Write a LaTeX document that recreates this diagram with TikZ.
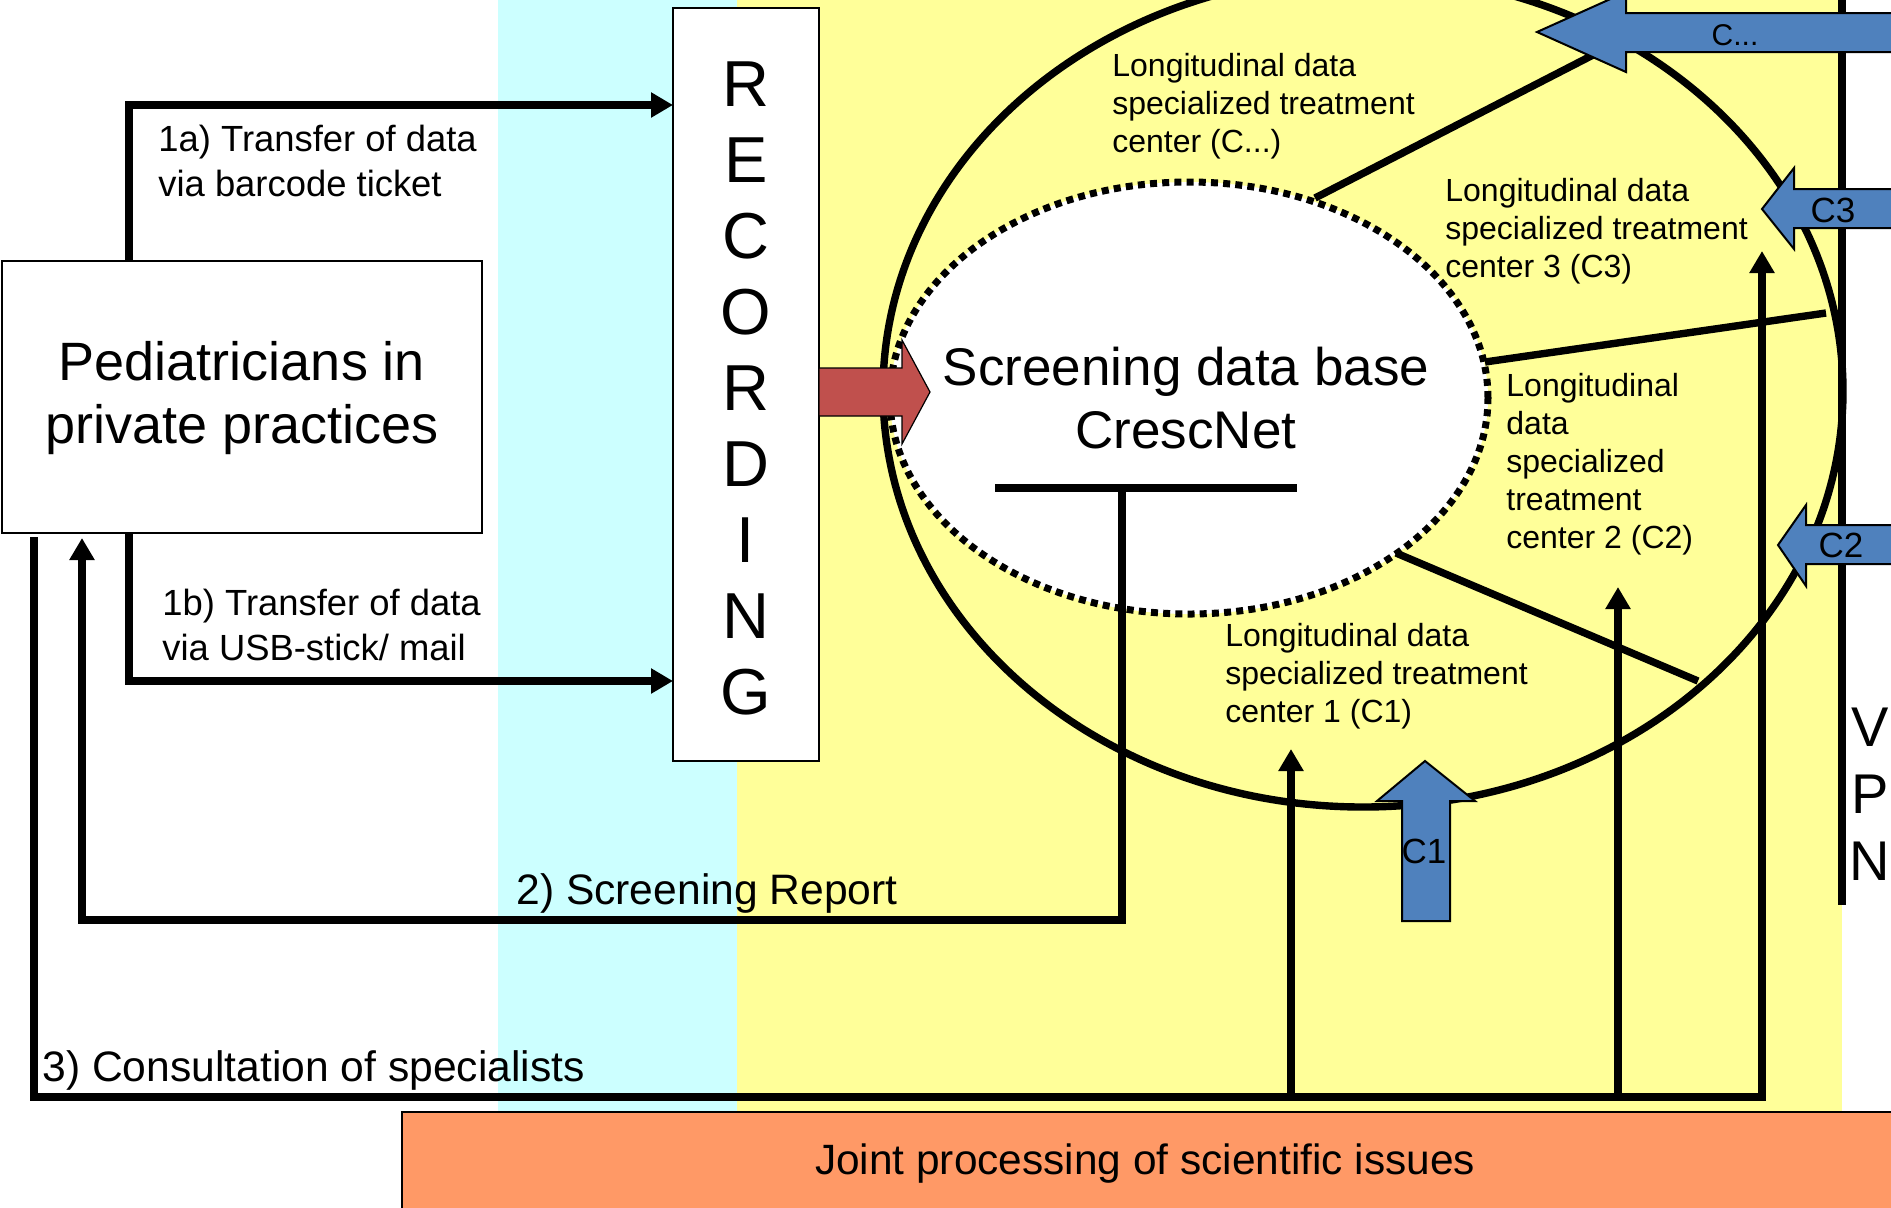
\documentclass[tikz,border=0pt]{standalone}
\usepackage{fontspec}
\setmainfont{Liberation Sans}
\usetikzlibrary{arrows.meta,shapes.geometric}
\definecolor{cyanbg}{HTML}{CCFFFF}
\definecolor{yellowbg}{HTML}{FFFF99}
\definecolor{orangebox}{HTML}{FF9966}
\definecolor{redarrow}{HTML}{C0504D}
\definecolor{bluearrow}{HTML}{4F81BD}
\begin{document}
\begin{tikzpicture}[x=0.5pt,y=-0.5pt,
  conn/.style={line width=3.7pt},
  arr/.style={conn,-{Triangle[length=11pt,width=12pt]}},
  thinbox/.style={draw,line width=1pt,fill=white,inner sep=0pt},
  lbl/.style={inner sep=0pt,anchor=west,align=left,font=\fontsize{16pt}{19pt}\selectfont},
  midlbl/.style={inner sep=0pt,anchor=west,align=left,font=\fontsize{18.2pt}{22.5pt}\selectfont},
  biglbl/.style={inner sep=0pt,anchor=west,align=left,font=\fontsize{21.3pt}{25pt}\selectfont},
  bluearr/.style={fill=bluearrow,draw=black,line width=1pt},
  clbl/.style={inner sep=0pt,font=\fontsize{17.5pt}{20pt}\selectfont}
]
\useasboundingbox (0,0) rectangle (1891,1207);
\clip (0,0) rectangle (1891,1207);

% backgrounds
\fill[cyanbg] (498,-10) rectangle (737,1112);
\fill[yellowbg] (737,-10) rectangle (1842,1112);
\draw[fill=orangebox,line width=1pt] (402,1112) rectangle (1910,1225);
\node[inner sep=0pt,font=\fontsize{21.2pt}{25pt}\selectfont] (joint) at (1145,1164) {Joint processing of scientific issues};

% VPN
\coordinate (vpnt) at (1842,-10);
\coordinate (vpnb) at (1842,905);
\draw[conn] (vpnt) -- (vpnb);
\node[inner sep=0pt,align=center,font=\fontsize{28pt}{33.5pt}\selectfont] (vpn) at (1870,794) {V\\P\\N};

% ellipses
\node[ellipse,draw,line width=3.7pt,minimum width=480pt,minimum height=416pt,inner sep=0pt] (outer) at (1363,391) {};
\node[ellipse,draw,fill=white,line width=3.5pt,dash pattern=on 3.5pt off 2.6pt,minimum width=299pt,minimum height=216pt,inner sep=0pt] (inner) at (1189,398) {};

% sector dividers
\coordinate (d1a) at (1315,198); \coordinate (d1b) at (1593,55);
\coordinate (d2a) at (1485,362); \coordinate (d2b) at (1826,313);
\coordinate (d3a) at (1396,553); \coordinate (d3b) at (1698,681);
\draw[conn] (d1a) -- (d1b);
\draw[conn] (d2a) -- (d2b);
\draw[conn] (d3a) -- (d3b);

% boxes
\node[thinbox,minimum width=240pt,minimum height=136pt] (ped) at (242,397) {};
\node[inner sep=0pt,align=center,font=\fontsize{27pt}{31.5pt}\selectfont] (pedtxt) at (242,398) {Pediatricians in\\private practices};
\node[thinbox,minimum width=73pt,minimum height=376.5pt] (rec) at (746,384.5) {};
\node[inner sep=0pt,align=center,font=\fontsize{32.5pt}{38pt}\selectfont] (rectxt) at (746,388) {R\\E\\C\\O\\R\\D\\I\\N\\G};

% database text
\node[inner sep=0pt,align=center,font=\fontsize{26.5pt}{31.5pt}\selectfont] (db) at (1186,398) {Screening data base\\CrescNet};

% red arrow
\draw[fill=redarrow,line width=0.6pt] (819,368) -- (902,368) -- (902,340) -- (930,392) -- (902,444) -- (902,416) -- (819,416) -- cycle;

% 1a / 1b
\coordinate (a1s) at (129,261); \coordinate (a1e) at (673,105);
\coordinate (b1s) at (129,533); \coordinate (b1e) at (673,681);
\draw[arr] (a1s) |- (a1e);
\draw[arr] (b1s) |- (b1e);
\node[midlbl] (l1a) at (158,161) {1a) Transfer of data\\via barcode ticket};
\node[midlbl] (l1b) at (162,625) {1b) Transfer of data\\via USB-stick/ mail};

% 2) screening report
\coordinate (tbl) at (995,488); \coordinate (tbr) at (1297,488);
\coordinate (tbm) at (1122,488); \coordinate (tbb) at (1122,920);
\coordinate (reptip) at (82,538);
\draw[conn] (tbl) -- (tbr);
\draw[arr] (tbm) -- (tbb) -| (reptip);
\node[biglbl] (l2) at (516,893) {2) Screening Report};

% 3) consultation
\coordinate (cs) at (34,537); \coordinate (cc) at (1762,1097); \coordinate (c3t) at (1762,251);
\coordinate (c1b) at (1291,1097); \coordinate (c1t) at (1291,749);
\coordinate (c2b) at (1618,1097); \coordinate (c2t) at (1618,587);
\draw[arr] (cs) |- (cc) -- (c3t);
\draw[arr] (c1b) -- (c1t);
\draw[arr] (c2b) -- (c2t);
\node[biglbl] (l3) at (42,1070) {3) Consultation of specialists};

% center labels
\node[lbl] (lcx) at (1112,106) {Longitudinal data\\specialized treatment\\center (C...)};
\node[lbl] (lc3) at (1445,231) {Longitudinal data\\specialized treatment\\center 3 (C3)};
\node[lbl] (lc2) at (1506,464) {Longitudinal\\data\\specialized\\treatment\\center 2 (C2)};
\node[lbl] (lc1) at (1225,676) {Longitudinal data\\specialized treatment\\center 1 (C1)};

% blue arrows
\draw[bluearr] (1920,13) -- (1626,13) -- (1626,-8) -- (1537,32) -- (1626,72) -- (1626,52) -- (1920,52) -- cycle;
\node[inner sep=0pt,font=\fontsize{15pt}{18pt}\selectfont] (bcx) at (1735,35) {C...};
\draw[bluearr] (1920,189) -- (1794,189) -- (1794,168) -- (1762,209) -- (1794,249) -- (1794,228) -- (1920,228) -- cycle;
\node[clbl] (bc3) at (1833,210) {C3};
\draw[bluearr] (1920,525) -- (1806,525) -- (1806,505) -- (1778,545) -- (1806,586) -- (1806,564) -- (1920,564) -- cycle;
\node[clbl] (bc2) at (1841,545) {C2};
\draw[bluearr] (1402,921) -- (1402,801) -- (1377,801) -- (1425,761) -- (1475,801) -- (1450,801) -- (1450,921) -- cycle;
\node[clbl] (bc1) at (1424,851) {C1};
\end{tikzpicture}
\end{document}
